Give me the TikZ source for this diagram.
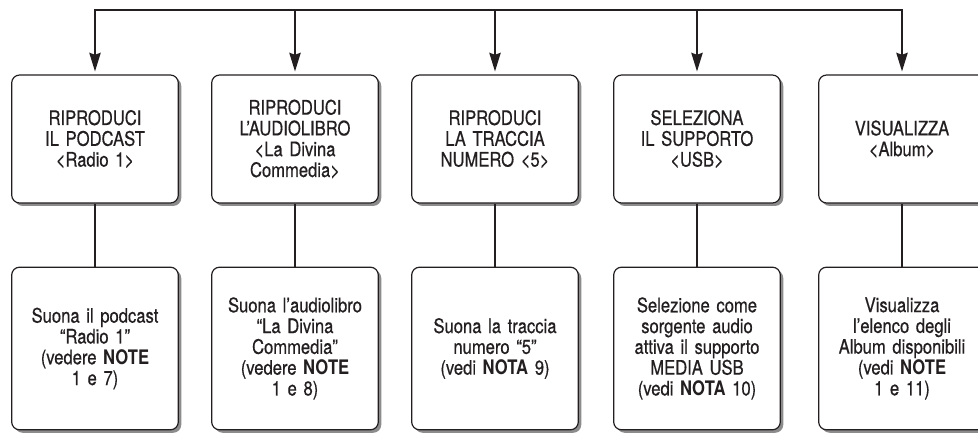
\documentclass[tikz,border=0pt]{standalone}
\usepackage{fontspec}
\setmainfont{TeX Gyre Heros}[FakeStretch=0.83, UprightFeatures={FakeBold=0.5}]
\usetikzlibrary{arrows.meta,shadows}

\definecolor{inkgray}{RGB}{35,31,32}
\definecolor{shadowgray}{RGB}{140,140,140}

\tikzset{every picture/.style={line width=0.75pt}}
\tikzset{
  menubox/.style={draw=inkgray, line width=0.9pt, rounded corners=6pt, fill=white,
    drop shadow={shadow xshift=2.2pt, shadow yshift=-2.2pt, fill=shadowgray, opacity=1},
    minimum width=125pt, minimum height=96pt, text width=120pt, align=center,
    inner sep=0pt, text=inkgray, font=\fontsize{15}{15.6}\selectfont},
  notebox/.style={menubox, minimum height=122pt},
  flowline/.style={draw=inkgray, line width=1.5pt},
  flowarrow/.style={flowline, -{Stealth[length=14pt, width=8.5pt, inset=1.5pt]}, shorten >=2.2pt}
}

\begin{document}
\begin{tikzpicture}[x=0.75pt,y=0.75pt,yscale=-1,xscale=1]
\useasboundingbox (0,0) rectangle (978,432);

% Top Nodes
\node [menubox] (podcast) at (95,139) {RIPRODUCI\\IL PODCAST\\<Radio 1>};
\node [menubox] (audiolibro) at (295,139) {RIPRODUCI\\L’AUDIOLIBRO\\<La Divina\\Commedia>};
\node [menubox] (traccia) at (495,139) {RIPRODUCI\\LA TRACCIA\\NUMERO <5>};
\node [menubox] (supporto) at (697,139) {SELEZIONA\\IL SUPPORTO\\<USB>};
\node [menubox] (album) at (902,139) {VISUALIZZA\\<Album>};

% Bottom Nodes
\node [notebox] (podcastnote) at (95,348.5) {Suona il podcast\\“Radio 1”\\(vedere \textbf{NOTE}\\1 e 7)};
\node [notebox] (audiolibronote) at (295,348.5) {Suona l’audiolibro\\“La Divina\\Commedia”\\(vedere \textbf{NOTE}\\1 e 8)};
\node [notebox] (traccianote) at (495,348.5) {Suona la traccia\\numero “5”\\(vedi \textbf{NOTA} 9)};
\node [notebox] (supportonote) at (697,348.5) {Selezione come\\sorgente audio\\attiva il supporto\\MEDIA USB\\(vedi \textbf{NOTA} 10)};
\node [notebox] (albumnote) at (902,348.5) {Visualizza\\l’elenco degli\\Album disponibili\\(vedi \textbf{NOTE}\\1 e 11)};

% Bus Line
\coordinate (busL) at (95,10);
\coordinate (busR) at (902,10);
\draw [flowarrow] (busR) -- (busL) -- (podcast.north);
\draw [flowarrow] (busL) -- (busR) -- (album.north);
\draw [flowarrow] (audiolibro.north |- busL) -- (audiolibro.north);
\draw [flowarrow] (traccia.north |- busL) -- (traccia.north);
\draw [flowarrow] (supporto.north |- busL) -- (supporto.north);

% Connector Lines
\draw [flowline] (podcast) -- (podcastnote);
\draw [flowline] (audiolibro) -- (audiolibronote);
\draw [flowline] (traccia) -- (traccianote);
\draw [flowline] (supporto) -- (supportonote);
\draw [flowline] (album) -- (albumnote);

\end{tikzpicture}
\end{document}
